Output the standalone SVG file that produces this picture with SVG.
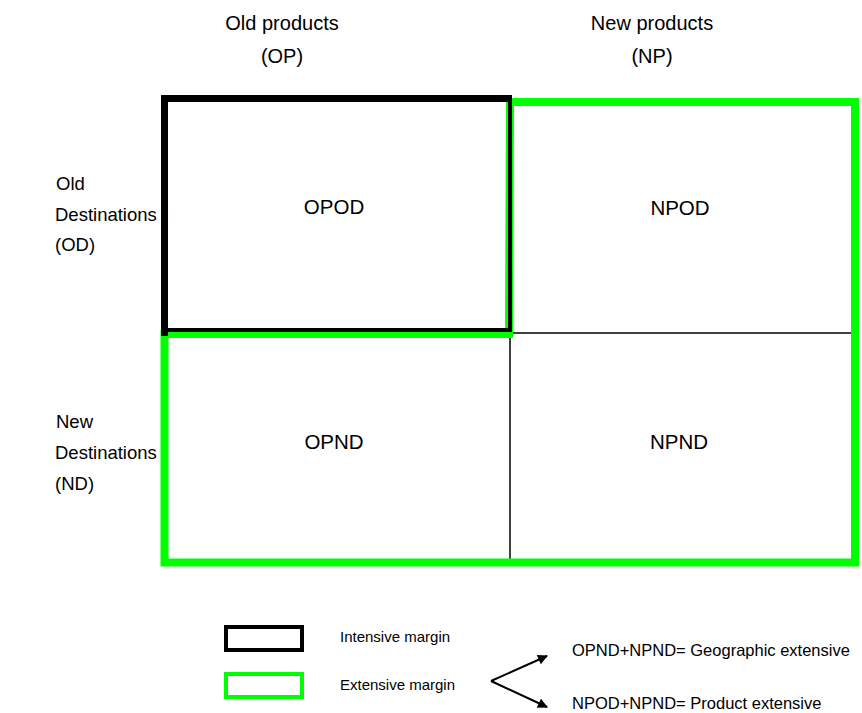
<svg xmlns="http://www.w3.org/2000/svg" width="862" height="713" viewBox="0 0 862 713">
<defs>
<style>
text{font-family:"Liberation Sans",Arial,sans-serif;fill:#000}
.lab{font-size:20px;text-anchor:middle}
.cell{font-size:20.5px;text-anchor:middle}
.row{font-size:18.5px}
.leg{font-size:15px}
.note{font-size:16.5px}
.green{fill:none;stroke:#00ff00;stroke-linejoin:miter}
.blk{fill:none;stroke:#000;stroke-linejoin:miter}
.thin{stroke:#000;stroke-width:1.5;fill:none}
</style>
<marker id="ah" viewBox="0 0 10 10" refX="9" refY="5" markerWidth="11" markerHeight="10" orient="auto" markerUnits="userSpaceOnUse">
<path d="M0,0 L10,5 L0,10 z" fill="#000"/>
</marker>
</defs>
<rect width="862" height="713" fill="#fff"/>
<g id="headers">
<text class="lab" x="282" y="30">Old products</text>
<text class="lab" x="282" y="63">(OP)</text>
<text class="lab" x="652" y="30">New products</text>
<text class="lab" x="652" y="63">(NP)</text>
</g>
<g id="rowlabels">
<text class="row" x="56" y="190">Old</text>
<text class="row" x="55" y="221">Destinations</text>
<text class="row" x="55" y="251">(OD)</text>
<text class="row" x="56" y="428">New</text>
<text class="row" x="55" y="459">Destinations</text>
<text class="row" x="55" y="490">(ND)</text>
</g>
<g id="connectors">
<line class="thin" x1="510" y1="334" x2="510" y2="562"/>
<line class="thin" x1="510" y1="333" x2="854" y2="333"/>
</g>
<g id="extensive">
<path class="green" stroke-width="8" d="M510,102 H855 V562.5 H164.5 V334 H509 Z"/>
</g>
<g id="intensive">
<path class="blk" stroke-width="4" d="M510,98.5 V330 H164.5"/>
<path class="blk" stroke-width="7" d="M164.5,336 V98.5 H512"/>
</g>
<g id="OPOD"><text class="cell" x="334" y="214">OPOD</text></g>
<g id="NPOD"><text class="cell" x="680" y="215">NPOD</text></g>
<g id="OPND"><text class="cell" x="334" y="449">OPND</text></g>
<g id="NPND"><text class="cell" x="679" y="449">NPND</text></g>
<g id="legend">
<rect x="226" y="627" width="76" height="23" fill="none" stroke="#000" stroke-width="4"/>
<text class="leg" x="340" y="642">Intensive margin</text>
<rect x="226" y="674" width="76" height="23" fill="none" stroke="#00ff00" stroke-width="4"/>
<text class="leg" x="340" y="690">Extensive margin</text>
</g>
<g id="arrows">
<line x1="491" y1="681" x2="547" y2="656" stroke="#000" stroke-width="2" marker-end="url(#ah)"/>
<line x1="491" y1="681" x2="547" y2="707" stroke="#000" stroke-width="2" marker-end="url(#ah)"/>
</g>
<g id="notes">
<text class="note" x="572" y="656">OPND+NPND= Geographic extensive</text>
<text class="note" x="572" y="709">NPOD+NPND= Product extensive</text>
</g>
</svg>
